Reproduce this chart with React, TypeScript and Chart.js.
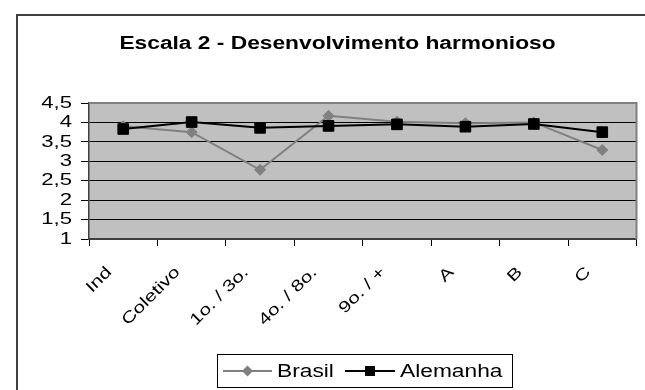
import React, { useEffect, useRef } from "react";
import { Chart, registerables } from "chart.js";

Chart.register(...registerables);

const categories = ["Ind", "Coletivo", "1o. / 3o.", "4o. / 8o.", "9o. / +", "A", "B", "C"];
const brasil = [3.9, 3.75, 2.78, 4.17, 4.02, 3.98, 4.0, 3.29];
const alemanha = [3.83, 4.01, 3.86, 3.91, 3.95, 3.89, 3.96, 3.75];
const yTicks = [1, 1.5, 2, 2.5, 3, 3.5, 4, 4.5];
const yTickLabels = ["1", "1,5", "2", "2,5", "3", "3,5", "4", "4,5"];
const titleText = "Escala 2 - Desenvolvimento harmonioso";
const seriesNames = ["Brasil", "Alemanha"];

const FONT = "'Liberation Sans', Arial, sans-serif";
const SX = 1.3; // horizontal stretch of the lettering

const decorPlugin = {
  id: "decor",
  beforeDraw(chart: any) {
    const { ctx, chartArea } = chart;
    if (!ctx.__origFillText) {
      const orig = ctx.fillText;
      ctx.__origFillText = orig;
      ctx.fillText = function (text: string, x: number, y: number, maxWidth?: number) {
        this.save();
        this.translate(x, y);
        this.scale(SX, 1);
        if (maxWidth === undefined || maxWidth === null) orig.call(this, text, 0, 0);
        else orig.call(this, text, 0, 0, maxWidth / SX);
        this.restore();
      };
    }
    ctx.save();
    ctx.fillStyle = "#ffffff";
    ctx.fillRect(0, 0, chart.width, chart.height);
    ctx.fillStyle = "#c0c0c0";
    ctx.fillRect(chartArea.left, chartArea.top, chartArea.right - chartArea.left, chartArea.bottom - chartArea.top);
    ctx.restore();
  },
  afterDraw(chart: any) {
    const { ctx, chartArea } = chart;
    ctx.save();
    // outer frame
    ctx.strokeStyle = "#404040";
    ctx.lineWidth = 2;
    ctx.beginPath();
    ctx.moveTo(17, chart.height + 5);
    ctx.lineTo(17, 15);
    ctx.lineTo(chart.width + 5, 15);
    ctx.stroke();
    // plot top/right border
    ctx.strokeStyle = "#808080";
    ctx.lineWidth = 2;
    ctx.beginPath();
    ctx.moveTo(chartArea.left, chartArea.top);
    ctx.lineTo(chartArea.right, chartArea.top);
    ctx.lineTo(chartArea.right, chartArea.bottom);
    ctx.stroke();
    // title
    ctx.fillStyle = "#000";
    ctx.font = `bold 17.5px ${FONT}`;
    ctx.textAlign = "center";
    ctx.textBaseline = "middle";
    ctx.fillText(titleText, 337.5, 44);
    // legend
    const lx = 217, ly = 354, lw = 295, lh = 33;
    ctx.strokeStyle = "#000";
    ctx.lineWidth = 1;
    ctx.strokeRect(lx + 0.5, ly + 0.5, lw, lh);
    const cy = ly + lh / 2 + 0.5;
    ctx.font = `17.5px ${FONT}`;
    ctx.textAlign = "left";
    ctx.textBaseline = "middle";
    // Brasil entry
    ctx.strokeStyle = "#808080";
    ctx.lineWidth = 2;
    ctx.beginPath();
    ctx.moveTo(lx + 6, cy);
    ctx.lineTo(lx + 55, cy);
    ctx.stroke();
    ctx.fillStyle = "#808080";
    ctx.beginPath();
    const dx = lx + 30.5;
    ctx.moveTo(dx - 5.5, cy);
    ctx.lineTo(dx, cy - 5.5);
    ctx.lineTo(dx + 5.5, cy);
    ctx.lineTo(dx, cy + 5.5);
    ctx.closePath();
    ctx.fill();
    ctx.fillStyle = "#000";
    ctx.fillText(seriesNames[0], lx + 60, cy + 1);
    // Alemanha entry
    const ax = lx + 128;
    ctx.strokeStyle = "#000";
    ctx.beginPath();
    ctx.moveTo(ax, cy);
    ctx.lineTo(ax + 50, cy);
    ctx.stroke();
    ctx.fillStyle = "#000";
    ctx.fillRect(ax + 25 - 5, cy - 5, 10, 10);
    ctx.fillText(seriesNames[1], ax + 55, cy + 1);
    ctx.restore();
  },
};

export default function App() {
  const ref = useRef<HTMLCanvasElement | null>(null);
  useEffect(() => {
    document.body.style.margin = "0";
    const canvas = ref.current!;
    const chart = new Chart(canvas, {
      type: "line",
      data: {
        labels: categories,
        datasets: [
          {
            label: seriesNames[0],
            data: brasil,
            borderColor: "#808080",
            backgroundColor: "#808080",
            borderWidth: 2,
            pointStyle: "rectRot",
            pointRadius: 5.5,
            pointBorderWidth: 1,
            pointBorderColor: "#808080",
            pointBackgroundColor: "#808080",
            tension: 0,
            order: 2,
          },
          {
            label: seriesNames[1],
            data: alemanha,
            borderColor: "#000000",
            backgroundColor: "#000000",
            borderWidth: 2,
            pointStyle: "rect",
            pointRadius: 7.5,
            pointBorderWidth: 1,
            pointBorderColor: "#000",
            pointBackgroundColor: "#000",
            tension: 0,
            order: 1,
          },
        ],
      },
      options: {
        animation: false,
        responsive: false,
        maintainAspectRatio: false,
        layout: { padding: { left: 0, right: 4, top: 103, bottom: 51 } },
        plugins: { legend: { display: false }, title: { display: false }, tooltip: { enabled: false } },
        scales: {
          x: {
            type: "category",
            offset: true,
            grid: {
              offset: true,
              drawOnChartArea: false,
              drawTicks: true,
              tickLength: 7,
              color: "#000",
              lineWidth: 1,
            },
            border: { display: true, color: "#404040", width: 2 },
            ticks: {
              autoSkip: false,
              maxRotation: 45,
              minRotation: 45,
              padding: 17,
              labelOffset: -14,
              color: "#000",
              font: { family: FONT, size: 16 },
            },
            afterFit: (s: any) => {
              s.height = 100;
            },
          },
          y: {
            type: "linear",
            min: 1,
            max: 4.5,
            afterBuildTicks: (s: any) => {
              s.ticks = yTicks.map((v) => ({ value: v }));
            },
            grid: {
              color: (c: any) => (c.tick && c.tick.value === 4.5 ? "rgba(0,0,0,0)" : "#000"),
              lineWidth: 1,
              drawTicks: true,
              tickLength: 8,
              tickColor: "#000",
            },
            border: { display: true, color: "#404040", width: 1.5 },
            ticks: {
              autoSkip: false,
              color: "#000",
              padding: 9,
              font: { family: FONT, size: 17 },
              callback: (v: any) => {
                const i = yTicks.indexOf(Number(v));
                return i >= 0 ? yTickLabels[i] : "";
              },
            },
            afterFit: (s: any) => {
              s.width = 89;
            },
          },
        },
      },
      plugins: [decorPlugin],
    });
    return () => chart.destroy();
  }, []);
  return (
    <div style={{ position: "fixed", left: 0, top: 0, width: 645, height: 390 }}>
      <canvas ref={ref} width={645} height={390} style={{ width: 645, height: 390, display: "block" }} />
    </div>
  );
}
